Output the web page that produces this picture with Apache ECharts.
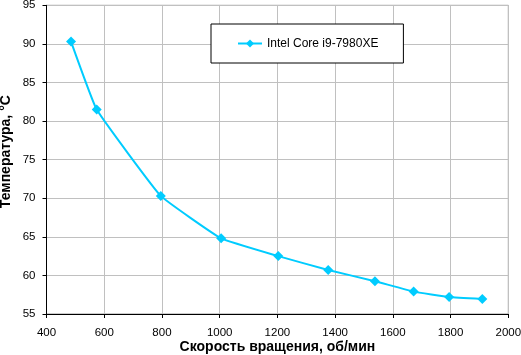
<!DOCTYPE html>
<html><head><meta charset="utf-8">
<script src="https://cdn.jsdelivr.net/npm/echarts@6/dist/echarts.min.js"></script>
<style>html,body{margin:0;padding:0;background:#fff}#c{width:521px;height:355px}</style>
</head><body><div id="c"></div>
<script>
const seriesName = 'Intel Core i9-7980XE';
const rpm = [485, 574, 796, 1005, 1203, 1376, 1538, 1672, 1795, 1910];
const temps = [90.3, 81.5, 70.3, 64.8, 62.5, 60.7, 59.25, 57.9, 57.2, 56.95];
const xTitle = 'Скорость вращения, об/мин';
const yTitle = 'Температура, °C';

const font = 'Liberation Sans, Arial, sans-serif';
const chart = echarts.init(document.getElementById('c'), null, {renderer: 'canvas'});
chart.setOption({
  animation: false,
  textStyle: {fontFamily: font},
  grid: {left: 46.5, right: 12.7, top: 5.3, bottom: 41, show: true, borderColor: '#999', borderWidth: 1,
         containLabel: false, outerBoundsMode: 'none'},
  legend: {
    data: [seriesName], left: 211, top: 24,
    padding: [13.5, 25, 13.5, 26],
    borderColor: '#000', borderWidth: 1, backgroundColor: '#fff',
    itemWidth: 24, itemHeight: 10, itemGap: 5,
    textStyle: {fontFamily: font, fontSize: 12, color: '#000'}
  },
  xAxis: {
    type: 'value', min: 400, max: 2000, interval: 200,
    name: xTitle, nameLocation: 'middle', nameGap: 26, nameMoveOverlap: false,
    nameTextStyle: {fontFamily: font, fontSize: 14, fontWeight: 'bold', color: '#000'},
    axisLine: {lineStyle: {color: '#000', width: 1}},
    axisTick: {show: true, length: 4, lineStyle: {color: '#000'}},
    axisLabel: {fontFamily: font, fontSize: 11.5, color: '#000', margin: 13, formatter: v => String(v)},
    splitLine: {show: true, lineStyle: {color: '#c0c0c0', width: 1}}
  },
  yAxis: {
    type: 'value', min: 55, max: 95, interval: 5,
    name: yTitle, nameLocation: 'middle', nameGap: 33, nameRotate: 90, nameMoveOverlap: false,
    nameTextStyle: {fontFamily: font, fontSize: 14, fontWeight: 'bold', color: '#000', padding: [0, 0, 0, 16]},
    axisLine: {show: true, lineStyle: {color: '#000', width: 1}},
    axisTick: {show: true, length: 4, lineStyle: {color: '#000'}},
    axisLabel: {fontFamily: font, fontSize: 11.5, color: '#000', margin: 11},
    splitLine: {show: true, lineStyle: {color: '#c0c0c0', width: 1}}
  },
  series: [{
    name: seriesName, type: 'line',
    data: rpm.map((x, i) => [x, temps[i]]),
    smooth: 0.1,
    symbol: 'diamond', symbolSize: 10,
    lineStyle: {color: '#00ccff', width: 2},
    itemStyle: {color: '#00ccff'}
  }]
});
</script></body></html>
